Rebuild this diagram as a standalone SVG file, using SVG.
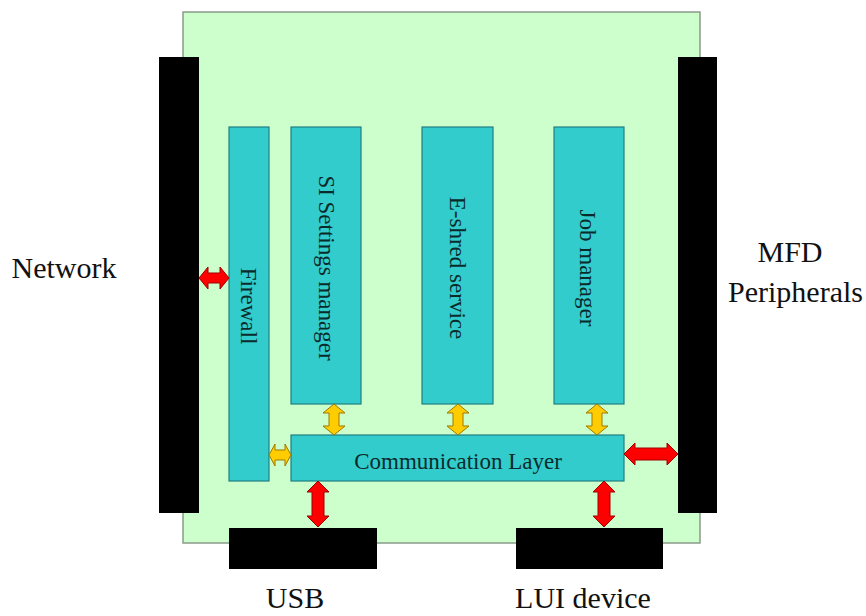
<svg xmlns="http://www.w3.org/2000/svg" width="866" height="616" viewBox="0 0 866 616">
<style>
.panel{fill:#ccffcc;stroke:#8a9a8a;stroke-width:1.5}
.blk{fill:#000}
.box{fill:#33cccc;stroke:#1f7f80;stroke-width:1.2}
.lbl{font-family:"Liberation Serif",serif;font-size:30px;fill:#111}
.btxt{font-family:"Liberation Serif",serif;font-size:23px;fill:#0b2b2b}
.red{fill:#ff0000;stroke:#a00000;stroke-width:1}
.yel{fill:#ffcc00;stroke:#a07800;stroke-width:1}
</style>
<rect width="866" height="616" fill="#fff"/>
<g id="panel"><rect class="panel" x="183" y="12" width="517" height="531"/></g>
<g id="network"><rect class="blk" x="159" y="57" width="40" height="456"/><text class="lbl" x="64" y="278" text-anchor="middle">Network</text></g>
<g id="mfd"><rect class="blk" x="678" y="57" width="39" height="456"/><text class="lbl" x="790" y="262" text-anchor="middle">MFD</text><text class="lbl" x="863" y="302" text-anchor="end">Peripherals</text></g>
<g id="usb"><rect class="blk" x="229" y="528" width="148" height="41"/><text class="lbl" x="295" y="608" text-anchor="middle">USB</text></g>
<g id="lui"><rect class="blk" x="516" y="528" width="147" height="41"/><text class="lbl" x="583" y="608" text-anchor="middle">LUI device</text></g>
<g id="firewall"><rect class="box" x="229" y="127" width="40" height="354"/><text class="btxt" transform="translate(241,306) rotate(90)" text-anchor="middle">Firewall</text></g>
<g id="si"><rect class="box" x="291" y="127" width="70" height="277"/><text class="btxt" transform="translate(319,268) rotate(90)" text-anchor="middle">SI Settings manager</text></g>
<g id="eshred"><rect class="box" x="422" y="127" width="71" height="277"/><text class="btxt" transform="translate(450,268) rotate(90)" text-anchor="middle">E-shred service</text></g>
<g id="job"><rect class="box" x="554" y="127" width="70" height="277"/><text class="btxt" transform="translate(580,268) rotate(90)" text-anchor="middle">Job manager</text></g>
<g id="comm"><rect class="box" x="291" y="435" width="333" height="46"/><text class="btxt" x="458" y="469" text-anchor="middle">Communication Layer</text></g>
<g id="connectors">
<path class="red" d="M199,278 l9,-11 v6 h12 v-6 l9,11 l-9,11 v-6 h-12 v6 z"/>
<path class="red" d="M624,454 l11,-11 v5 h32 v-5 l11,11 l-11,11 v-5 h-32 v5 z"/>
<path class="red" d="M318,481 l11,11 h-5 v24 h5 l-11,11 l-11,-11 h5 v-24 h-5 z"/>
<path class="red" d="M604,481 l11,11 h-5 v24 h5 l-11,11 l-11,-11 h5 v-24 h-5 z"/>
<path class="yel" d="M334,404 l11,9 h-6 v13 h6 l-11,9 l-11,-9 h6 v-13 h-6 z"/>
<path class="yel" d="M458,404 l11,9 h-6 v13 h6 l-11,9 l-11,-9 h6 v-13 h-6 z"/>
<path class="yel" d="M597,404 l11,9 h-6 v13 h6 l-11,9 l-11,-9 h6 v-13 h-6 z"/>
<path class="yel" d="M269,455 l6,-11 v6 h10 v-6 l6,11 l-6,11 v-6 h-10 v6 z"/>
</g>
</svg>
